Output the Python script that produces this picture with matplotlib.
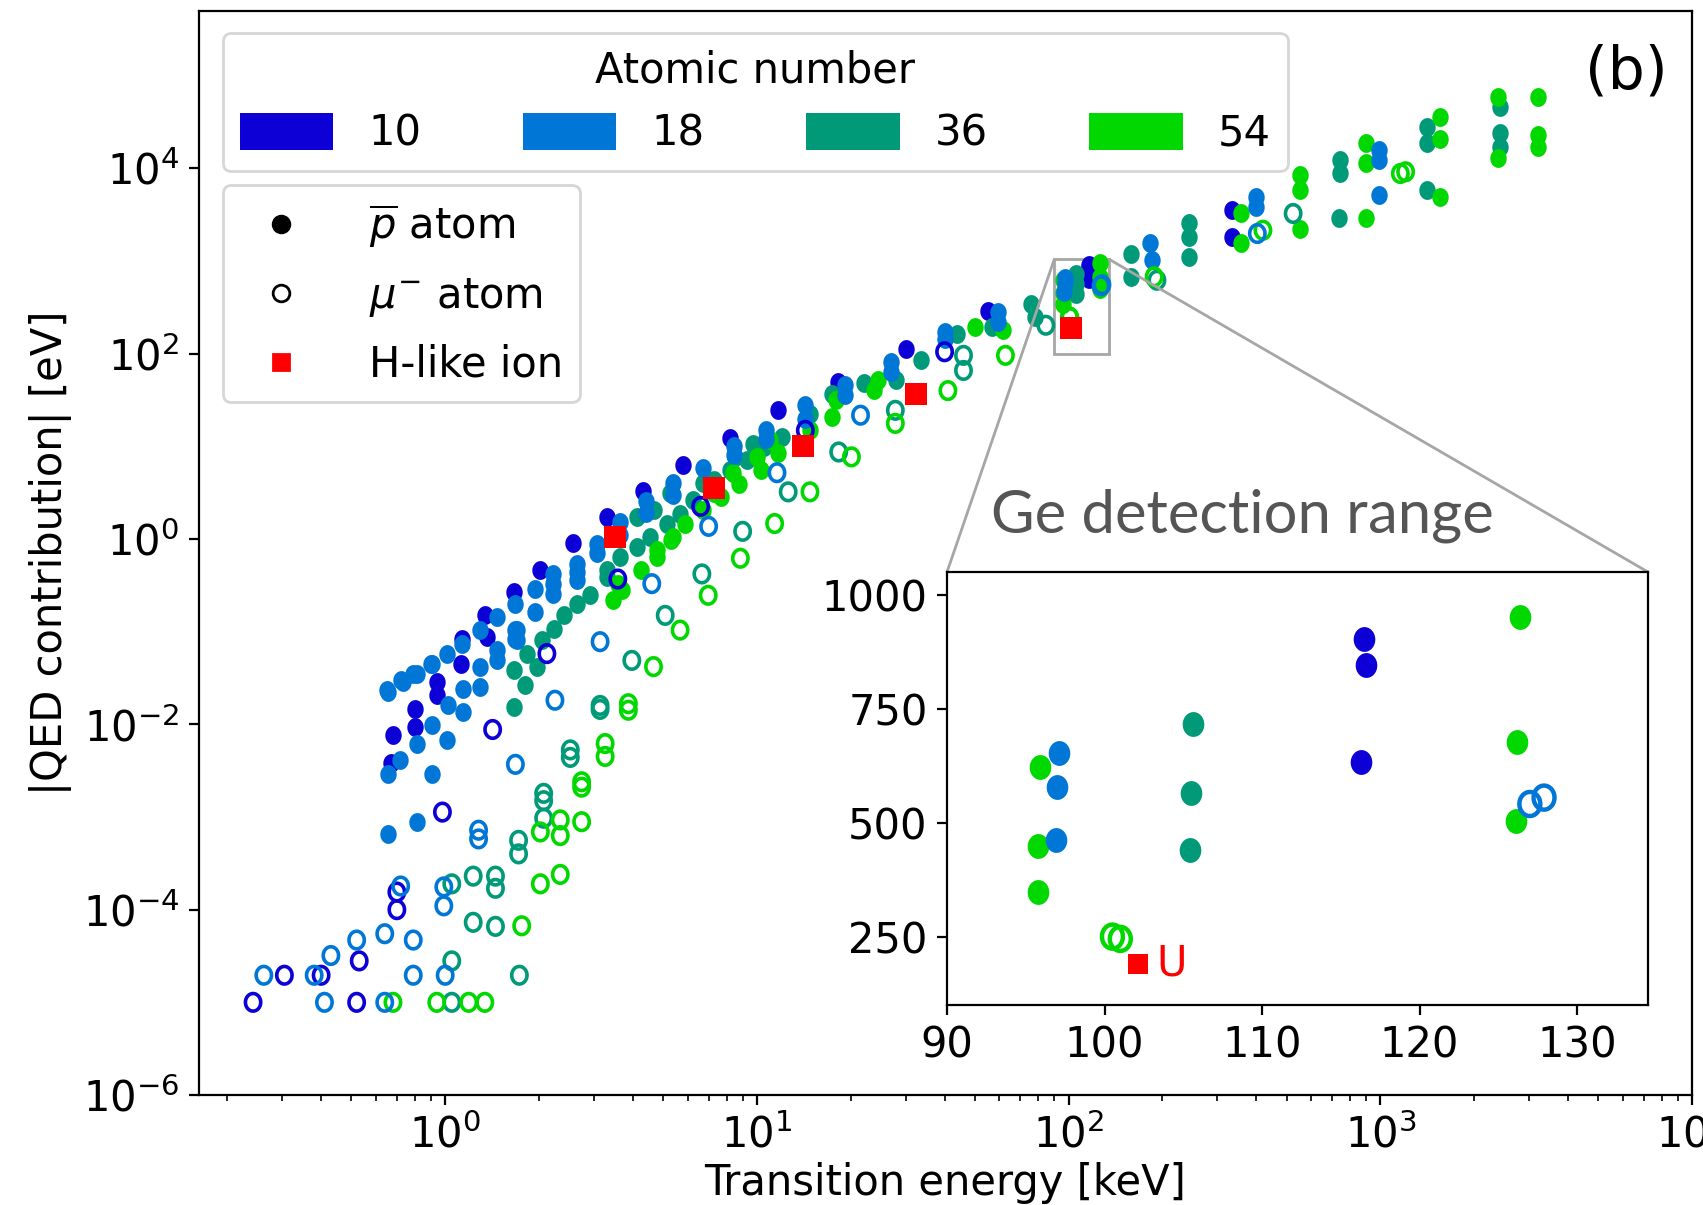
import numpy as np
import matplotlib
matplotlib.use("Agg")
import matplotlib.pyplot as plt
from matplotlib.path import Path
from matplotlib.patches import Patch
from matplotlib.lines import Line2D
from matplotlib.ticker import NullLocator, LogLocator
from mpl_toolkits.axes_grid1.inset_locator import mark_inset

# atomic numbers and their colours
atomic_numbers = [10, 18, 36, 54]
z_colors = ['#0c00d6', '#0077d6', '#009a78', '#00d800']

# antiprotonic atoms (filled), energy [keV] / |QED| [eV]
pbar_E_10 = [0.67, 0.68, 0.80, 0.80, 0.94, 0.94, 1.12, 1.13, 1.34, 1.36, 1.66, 2.02, 2.58, 3.3, 4.3,
             5.8, 8.2, 11.7, 18.2, 30, 55, 116.5, 116.6, 116.3, 335, 335]
pbar_Q_10 = [0.0038, 0.0076, 0.0148, 0.0094, 0.0287, 0.0205, 0.045, 0.084, 0.15, 0.088, 0.27, 0.46, 0.91,
             1.75, 3.3, 6.3, 12.2, 24.5, 50, 112, 288, 903, 845, 634, 3540, 1828]

pbar_E_18 = [0.658, 0.658, 0.658, 0.717, 0.734, 0.811, 0.811, 0.811, 0.906, 0.906, 0.906, 1.01, 1.01, 1.02,
             1.13, 1.14, 1.14, 1.29, 1.29, 1.29, 1.47, 1.47, 1.47, 1.68, 1.68, 1.68, 1.94, 1.94, 2.22, 2.22,
             2.64, 2.64, 0.65, 0.72, 0.79, 0.90, 1.70, 1.70, 2.22, 2.64, 3.07, 3.07, 3.64, 3.64, 4.4, 4.4,
             5.4, 5.4, 6.7, 8.45, 8.45, 10.7, 10.7, 14.3, 14.3, 19.1, 19.1, 26.9, 26.9, 40, 40, 59.4, 59.4,
             97.1, 97.0, 96.9, 183, 185, 398, 398, 989, 989, 989]
pbar_Q_18 = [0.0224, 0.00294, 0.00066, 0.0041, 0.0288, 0.0353, 0.0062, 0.00089, 0.0098, 0.00294, 0.0453,
             0.058, 0.0067, 0.016, 0.0745, 0.0136, 0.0243, 0.0254, 0.104, 0.0418, 0.145, 0.063, 0.049, 0.201,
             0.104, 0.084, 0.292, 0.164, 0.331, 0.258, 0.443, 0.359, 0.0233, 0.030, 0.0353, 0.045, 0.104, 0.081,
             0.424, 0.544, 0.89, 0.70, 1.53, 1.1, 2.6, 1.9, 4.0, 3.0, 5.9, 10.2, 8.0, 14.9, 12.1, 27.7, 19.9,
             45.5, 35.5, 81, 63, 171, 145, 280, 219, 652, 578, 461, 1549, 1023, 4930, 3850, 15740, 12270, 5140]

pbar_E_36 = [1.66, 1.81, 1.66, 1.97, 1.83, 2.04, 2.23, 2.40, 2.64, 2.92, 3.3, 3.3, 3.64, 4.12, 4.55, 5.14,
             5.67, 6.26, 7.26, 8.2, 9.29, 10.5, 4.12, 4.66, 5.27, 6.72, 8.5, 9.72, 12.0, 14.8, 17.4, 22.0,
             27.9, 33.6, 43.7, 56.9, 76, 78, 105.6, 105.5, 105.4, 158, 158, 244, 244, 244, 740, 740, 738,
             1413, 1413, 1413, 2425, 2425, 2420]
pbar_Q_36 = [0.0155, 0.0264, 0.0384, 0.0418, 0.058, 0.081, 0.108, 0.151, 0.201, 0.248, 0.39, 0.46, 0.64,
             0.82, 1.06, 1.47, 1.88, 2.62, 4.31, 5.53, 7.1, 9.9, 1.74, 2.05, 3.1, 3.98, 7.7, 10.7, 12.7, 22.6,
             37.2, 47.7, 51.8, 85, 165, 195, 347, 251, 716, 566, 441, 1206, 676, 2543, 1828, 1111, 12270,
             8810, 2880, 28100, 18580, 5820, 46200, 23800, 17100]

pbar_E_54 = [3.45, 3.58, 3.7, 4.25, 4.77, 4.78, 5.3, 5.4, 5.9, 6.72, 7.26, 7.67, 8.41, 8.75, 10.0, 10.3,
             11.0, 11.7, 14.8, 17.4, 17.9, 23.8, 24.4, 49.9, 61.6, 95.9, 95.8, 95.8, 126.4, 126.2, 126.1,
             358, 358, 553, 553, 553, 901, 901, 901, 1549, 1549, 1549, 2390, 2390, 3200, 3200, 3200]
pbar_Q_54 = [0.22, 0.33, 0.28, 0.46, 0.64, 0.76, 0.97, 1.06, 1.47, 2.05, 3.1, 2.85, 5.1, 3.97, 7.7, 5.53,
             11.6, 8.4, 14.9, 20.8, 31.5, 40.4, 51.8, 195, 180, 622, 449, 347, 952, 677, 504, 3280, 1549,
             8450, 5820, 2245, 18580, 11300, 2880, 36060, 21000, 4930, 59300, 12800, 59300, 22800, 17100]

# muonic atoms (open)
mu_E_10 = [0.242, 0.52, 0.305, 0.40, 0.53, 0.70, 0.70, 0.98, 1.42, 2.12, 3.58, 6.6, 14.3, 40]
mu_Q_10 = [1e-5, 1e-5, 1.96e-5, 1.96e-5, 2.8e-5, 1.55e-4, 1.0e-4, 1.13e-3, 8.8e-3, 0.058, 0.37, 2.25, 14.9, 105]

mu_E_18 = [0.41, 0.64, 0.262, 0.38, 0.79, 1.0, 0.43, 0.52, 0.64, 0.79, 0.72, 0.99, 0.99, 1.28, 1.28, 1.68,
           2.25, 3.14, 4.6, 7.0, 11.6, 21.5, 127.0, 127.9, 403]
mu_Q_18 = [1e-5, 1e-5, 1.96e-5, 1.96e-5, 1.96e-5, 1.96e-5, 3.2e-5, 4.7e-5, 5.5e-5, 4.7e-5, 1.8e-4, 1.76e-4,
           1.1e-4, 7.2e-4, 5.8e-4, 3.7e-3, 0.0182, 0.078, 0.33, 1.37, 5.2, 21.7, 541, 555, 1983]

mu_E_36 = [1.05, 1.73, 1.05, 1.05, 1.23, 1.23, 1.45, 1.45, 1.45, 1.72, 1.72, 2.07, 2.07, 2.07, 2.52, 2.52,
           3.14, 3.14, 3.97, 5.08, 6.66, 9.0, 12.6, 18.3, 27.8, 46, 46, 84.5, 192, 525]
mu_Q_36 = [1e-5, 1.96e-5, 2.8e-5, 1.9e-4, 2.3e-4, 7.3e-5, 2.3e-4, 1.7e-4, 6.6e-5, 5.6e-4, 4.0e-4, 1.8e-3,
           1.5e-3, 9.7e-4, 5.3e-3, 4.4e-3, 0.016, 0.0145, 0.049, 0.15, 0.42, 1.21, 3.23, 8.7, 24.5, 96, 66,
           203, 621, 3260]

mu_E_54 = [0.68, 0.94, 1.19, 1.34, 1.76, 2.02, 2.34, 2.02, 2.34, 2.34, 2.74, 2.74, 2.74, 3.26, 3.26, 3.87,
           3.87, 4.66, 5.67, 6.98, 8.85, 11.4, 14.8, 20.1, 27.8, 41, 62.7, 100.5, 101.0, 188, 420, 1159, 1205]
mu_Q_54 = [1e-5, 1e-5, 1e-5, 1e-5, 6.7e-5, 1.9e-4, 2.4e-4, 6.9e-4, 6.3e-4, 9.3e-4, 8.9e-4, 2.4e-3, 2.1e-3,
           6.2e-3, 4.5e-3, 0.0167, 0.0142, 0.042, 0.104, 0.247, 0.62, 1.47, 3.23, 7.7, 17.7, 40, 96, 250,
           245, 676, 2150, 8810, 9190]

# hydrogen-like ions
hlike_E = [3.50, 7.31, 14.1, 32.3, 102.1]
hlike_Q = [1.05, 3.56, 10.2, 37.2, 190]

pbar_E = {10: pbar_E_10, 18: pbar_E_18, 36: pbar_E_36, 54: pbar_E_54}
pbar_Q = {10: pbar_Q_10, 18: pbar_Q_18, 36: pbar_Q_36, 54: pbar_Q_54}
mu_E = {10: mu_E_10, 18: mu_E_18, 36: mu_E_36, 54: mu_E_54}
mu_Q = {10: mu_Q_10, 18: mu_Q_18, 36: mu_Q_36, 54: mu_Q_54}
col = dict(zip(atomic_numbers, z_colors))

# slightly tall ellipse marker (reference is stretched vertically)
t = np.linspace(0, 2 * np.pi, 73)
ell = Path(np.column_stack([0.87 * np.cos(t), np.sin(t)]), closed=True)

draw_order = [10, 36, 54, 18]


def draw_points(a, s_fill, s_open, s_sq, lw_open):
    for z in draw_order:
        a.scatter(pbar_E[z], pbar_Q[z], s=s_fill, marker=ell, color=col[z], linewidths=0, zorder=2)
    for z in draw_order:
        a.scatter(mu_E[z], mu_Q[z], s=s_open, marker=ell, facecolors='none',
                  edgecolors=col[z], linewidths=lw_open, zorder=3)
    a.scatter(hlike_E, hlike_Q, s=s_sq, marker='s', color='#ff0000', linewidths=0, zorder=4)


fig = plt.figure(figsize=(8.515, 6.025), dpi=200)
ax = fig.add_axes([0.1167, 0.0913, 0.8769, 0.8996])
draw_points(ax, 46, 40, 60, 1.3)
ax.set_xscale('log')
ax.set_yscale('log')
ax.set_xlim(0.162, 1e4)
ax.set_ylim(1e-6, 5e5)
ax.set_xticks([1, 10, 100, 1000, 10000])
ax.xaxis.set_minor_locator(LogLocator(subs=np.arange(2, 10)))
ax.set_yticks([1e-6, 1e-4, 1e-2, 1, 1e2, 1e4])
ax.yaxis.set_minor_locator(NullLocator())
ax.tick_params(which='both', direction='out', labelsize=15)
ax.set_xlabel('Transition energy [keV]', fontsize=15, labelpad=2)
ax.set_ylabel('|QED contribution| [eV]', fontsize=15)

handles1 = [Patch(facecolor=c, edgecolor='none', label=str(z)) for z, c in zip(atomic_numbers, z_colors)]
leg1 = ax.legend(handles=handles1, title='Atomic number', ncol=4, loc='upper left',
                 bbox_to_anchor=(0.0163, 0.9797), fontsize=15, title_fontsize=15,
                 handlelength=2.25, handleheight=1.0, handletextpad=0.85, columnspacing=2.42,
                 borderaxespad=0)
ax.add_artist(leg1)

handles2 = [
    Line2D([], [], marker='o', color='k', linestyle='none', markersize=6, label=r'$\overline{p}$ atom'),
    Line2D([], [], marker='o', markerfacecolor='none', markeredgecolor='k', linestyle='none',
           markersize=6, markeredgewidth=1, label=r'$\mu^{-}$ atom'),
    Line2D([], [], marker='s', color='#ff0000', linestyle='none', markersize=6, label='H-like ion'),
]
ax.legend(handles=handles2, loc='upper left', bbox_to_anchor=(0.0163, 0.8395), fontsize=15,
          handletextpad=1.1, labelspacing=0.6, borderaxespad=0)

fig.text(0.955, 0.94, '(b)', fontsize=21, ha='center', va='center')
fig.text(0.7293, 0.5718, 'Ge detection range', fontsize=21.5, color='#555555', family='Lato',
         ha='center', va='center')

# inset
axins = fig.add_axes([0.5561, 0.166, 0.4116, 0.3593])
draw_points(axins, 80, 75, 55, 1.6)
axins.set_xlim(90, 134.5)
axins.set_ylim(100, 1050)
axins.set_xticks([90, 100, 110, 120, 130])
axins.set_yticks([250, 500, 750, 1000])
axins.tick_params(labelsize=15)
axins.text(103.3, 190, 'U', color='#ff0000', fontsize=15, va='center', ha='left')
mark_inset(ax, axins, loc1=2, loc2=1, fc='none', ec='0.65', lw=1)

fig.savefig('out.png', dpi=200)
